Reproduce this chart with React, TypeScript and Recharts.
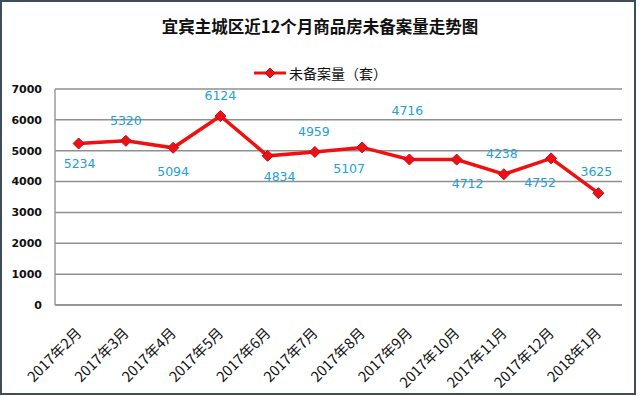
import React from "react";
import { LineChart, Line, XAxis, YAxis, CartesianGrid, Legend, LabelList } from "recharts";

const categories = [
  "2017年2月", "2017年3月", "2017年4月", "2017年5月", "2017年6月", "2017年7月",
  "2017年8月", "2017年9月", "2017年10月", "2017年11月", "2017年12月", "2018年1月",
];
const unfiled = [5234, 5320, 5094, 6124, 4834, 4959, 5107, 4716, 4712, 4238, 4752, 3625];
const yTicks = [0, 1000, 2000, 3000, 4000, 5000, 6000, 7000];
const seriesName = "未备案量（套）";
const title = "宜宾主城区近12个月商品房未备案量走势图";

// label nudges (dx, dy) relative to each point — styling only
const labelNudges: [number, number][] = [
  [1, 20], [0, -20], [0, 24], [0, -21], [12, 21], [-1, -20],
  [-13, 21], [-2, -49], [11, 24], [-2, -21], [-11, 24], [-2, -22],
];

const data = categories.map((c, i) => ({ month: c, value: unfiled[i] }));

const RED = "#f01010";
const BLUE = "#22a0da";

const Diamond = (props: any) => {
  const { cx, cy } = props;
  if (cx == null || cy == null) return null;
  const r = 5.5;
  return (
    <polygon
      points={`${cx},${cy - r} ${cx + r},${cy} ${cx},${cy + r} ${cx - r},${cy}`}
      fill={RED}
      stroke="#b0102a"
      strokeWidth={1}
    />
  );
};

const XTick = (props: any) => {
  const { x, y, payload } = props;
  return (
    <text
      x={x + 4}
      y={y + 21}
      transform={`rotate(-45 ${x + 4} ${y + 21})`}
      textAnchor="end"
      fontSize={14.5}
      fontFamily="'Noto Sans CJK SC', sans-serif"
      fill="#111"
    >
      {payload.value}
    </text>
  );
};

const ValueLabel = (props: any) => {
  const { x, y, value, index } = props;
  const [dx, dy] = labelNudges[index] || [0, -20];
  return (
    <text
      x={x + dx}
      y={y + dy}
      textAnchor="middle"
      dominantBaseline="central"
      fontSize={12.5}
      fontFamily="'DejaVu Sans', Verdana, sans-serif"
      fill={BLUE}
    >
      {value}
    </text>
  );
};

const LegendContent = () => (
  <div
    style={{
      display: "flex",
      alignItems: "center",
      justifyContent: "center",
      fontFamily: "'Noto Sans CJK SC', sans-serif",
      fontSize: 14,
      color: "#111",
    }}
  >
    <svg width={34} height={14} style={{ marginRight: 2 }}>
      <line x1={1} y1={7} x2={33} y2={7} stroke={RED} strokeWidth={3} />
      <polygon points="17,2 22,7 17,12 12,7" fill={RED} stroke="#b0102a" strokeWidth={1} />
    </svg>
    <span>{seriesName}</span>
  </div>
);

export default function App() {
  return (
    <div style={{ position: "absolute", left: 0, top: 0, width: 640, height: 396, background: "#fff" }}>
      <div
        style={{
          position: "absolute",
          left: 0,
          top: 0,
          width: 636,
          height: 395,
          boxSizing: "border-box",
          border: "2px solid #3f4d5b",
        }}
      />
      <div
        style={{
          position: "absolute",
          left: 0,
          top: 13,
          width: 640,
          textAlign: "center",
          fontFamily: "'Noto Sans CJK SC', sans-serif",
          fontWeight: 700,
          fontSize: 16.5,
          lineHeight: "26px",
          color: "#111",
        }}
      >
        {title}
      </div>
      <LineChart
        width={640}
        height={396}
        data={data}
        margin={{ top: 89, right: 18, bottom: 0, left: 8 }}
      >
        <CartesianGrid vertical={false} stroke="#8f8f8f" strokeWidth={1.5} />
        <XAxis
          dataKey="month"
          scale="band"
          interval={0}
          height={91}
          tick={<XTick />}
          tickLine={false}
          axisLine={{ stroke: "#8f8f8f", strokeWidth: 1.5 }}
        />
        <YAxis
          width={47}
          domain={[0, 7000]}
          ticks={yTicks}
          interval={0}
          tickLine={false}
          axisLine={{ stroke: "#9a9a9a", strokeWidth: 1.5 }}
          tick={{ fontSize: 11, fontWeight: 700, fill: "#111", fontFamily: "'DejaVu Sans', Verdana, sans-serif" }}
          tickMargin={7}
        />
        <Legend
          verticalAlign="middle"
          align="center"
          layout="horizontal"
          content={<LegendContent />}
          wrapperStyle={{ top: 63, left: 0, width: 640 }}
        />
        <Line
          type="linear"
          dataKey="value"
          name={seriesName}
          stroke={RED}
          strokeWidth={3.5}
          dot={<Diamond />}
          activeDot={false}
          isAnimationActive={false}
        >
          <LabelList dataKey="value" content={<ValueLabel />} />
        </Line>
      </LineChart>
    </div>
  );
}
